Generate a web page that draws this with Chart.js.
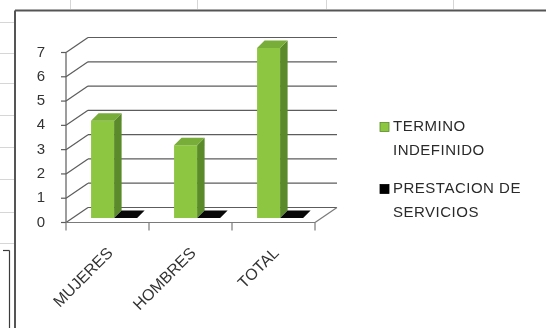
<!DOCTYPE html>
<html>
<head>
<meta charset="utf-8">
<script src="https://cdn.jsdelivr.net/npm/chart.js@4/dist/chart.umd.min.js"></script>
<style>
  html, body { margin: 0; padding: 0; background: #fff; }
  #wrap { width: 546px; height: 328px; position: relative; }
</style>
</head>
<body>
<div id="wrap"><canvas id="c"></canvas></div>
<script>
// Data
const categories = ['MUJERES', 'HOMBRES', 'TOTAL'];
const terminoIndefinido = [4, 3, 7];
const prestacionServicios = [0, 0, 0];
const seriesNames = ['TERMINO INDEFINIDO', 'PRESTACION DE SERVICIOS'];
const yTickValues = [0, 1, 2, 3, 4, 5, 6, 7];

// Pseudo-3D geometry: the bars stand on a middle plane; the axis sits in
// front of it and the wall behind it.
const FRONT = { dx: -6.6, dy: 4.5 };
const BACK = { dx: 15.4, dy: -10.5 };
const BAR_DEPTH = 7.5;
const FONT = '"Liberation Sans", Arial, sans-serif';

function line(ctx, x1, y1, x2, y2) {
  ctx.beginPath(); ctx.moveTo(x1, y1); ctx.lineTo(x2, y2); ctx.stroke();
}
function poly(ctx, pts, fill) {
  ctx.beginPath();
  pts.forEach((p, i) => i ? ctx.lineTo(p[0], p[1]) : ctx.moveTo(p[0], p[1]));
  ctx.closePath();
  ctx.fillStyle = fill; ctx.fill();
}

// Spreadsheet cells around the embedded chart and the chart frame
const sheetPlugin = {
  id: 'sheet',
  beforeDraw(chart) {
    const ctx = chart.ctx;
    ctx.save();
    ctx.fillStyle = '#fff';
    ctx.fillRect(0, 0, chart.width, chart.height);
    ctx.strokeStyle = '#d6d6d6'; ctx.lineWidth = 1;
    [22, 53, 83, 115, 147, 179, 212, 243].forEach(yy => line(ctx, 0, yy + 0.5, 14, yy + 0.5));
    [70, 197, 326, 453].forEach(xx => line(ctx, xx + 0.5, 0, xx + 0.5, 9));
    ctx.strokeStyle = '#3c3c3c'; ctx.lineWidth = 1.2;
    line(ctx, 3, 250.5, 9.5, 250.5);
    line(ctx, 9.5, 250.5, 9.5, chart.height);
    ctx.strokeStyle = '#555'; ctx.lineWidth = 2;
    line(ctx, 15, 10.5, chart.width, 10.5);
    line(ctx, 15, 10.5, 15, chart.height);
    ctx.restore();
  }
};

// Back wall gridlines, side diagonals, floor and front axis
const wallsPlugin = {
  id: 'walls',
  beforeDatasetsDraw(chart) {
    const { ctx, chartArea: a, scales: { x, y } } = chart;
    ctx.save();
    ctx.strokeStyle = '#5c5c5c'; ctx.lineWidth = 1.2;
    const fl = a.left + FRONT.dx, bl = a.left + BACK.dx;
    const fr = a.right + FRONT.dx, br = a.right + BACK.dx;
    yTickValues.forEach(v => {
      const py = y.getPixelForValue(v);
      line(ctx, bl, py + BACK.dy, br, py + BACK.dy);
      line(ctx, fl, py + FRONT.dy, bl, py + BACK.dy);
      line(ctx, fl - 5, py + FRONT.dy, fl, py + FRONT.dy);
    });
    const y0 = y.getPixelForValue(0), yTop = y.getPixelForValue(yTickValues[yTickValues.length - 1]);
    line(ctx, fl, y0 + FRONT.dy, fl, yTop + FRONT.dy);
    ctx.strokeStyle = '#7a7a7a';
    line(ctx, fl, y0 + FRONT.dy, fr, y0 + FRONT.dy);
    line(ctx, fr, y0 + FRONT.dy, br, y0 + BACK.dy);
    const cw = (a.right - a.left) / categories.length;
    for (let i = 0; i <= categories.length; i++) {
      const xx = (i < categories.length ? x.getPixelForTick(i) - cw / 2 : a.right) + FRONT.dx;
      line(ctx, xx, y0 + FRONT.dy, xx, y0 + FRONT.dy + 8);
    }
    ctx.restore();
  },
  // Side and top faces of every bar
  afterDatasetsDraw(chart) {
    const ctx = chart.ctx;
    ctx.save();
    chart.data.datasets.forEach((ds, di) => {
      chart.getDatasetMeta(di).data.forEach(el => {
        const { x, y, base, width } = el.getProps(['x', 'y', 'base', 'width'], true);
        const l = x - width / 2, r = x + width / 2, d = BAR_DEPTH;
        if (base - y > 0.5) poly(ctx, [[r, y], [r + d, y - d], [r + d, base - d], [r, base]], ds.sideColor);
        poly(ctx, [[l, y], [l + d, y - d], [r + d, y - d], [r, y]], ds.topColor);
      });
    });
    ctx.restore();
  }
};

// Legend with wrapped labels at the right of the plot
const legendPlugin = {
  id: 'sideLegend',
  afterDraw(chart) {
    const ctx = chart.ctx;
    ctx.save();
    ctx.font = '15px ' + FONT;
    if ('letterSpacing' in ctx) ctx.letterSpacing = '0.5px';
    ctx.textBaseline = 'middle';
    ctx.textAlign = 'left';
    const maxW = 140, lh = 23.5, gap = 15;
    let yy = 127;
    chart.data.datasets.forEach(ds => {
      const words = ds.label.split(' ');
      const lines = [];
      let cur = '';
      words.forEach(w => {
        const t = cur ? cur + ' ' + w : w;
        if (ctx.measureText(t).width > maxW && cur) { lines.push(cur); cur = w; } else cur = t;
      });
      lines.push(cur);
      ctx.fillStyle = ds.backgroundColor;
      ctx.fillRect(380, yy - 4.5, 9, 9);
      ctx.strokeStyle = ds.sideColor; ctx.lineWidth = 0.8;
      ctx.strokeRect(380, yy - 4.5, 9, 9);
      ctx.fillStyle = '#2a2a2a';
      lines.forEach((t, i) => ctx.fillText(t, 393, yy + i * lh));
      yy += lines.length * lh + gap;
    });
    ctx.restore();
  }
};

new Chart(document.getElementById('c'), {
  type: 'bar',
  data: {
    labels: categories,
    datasets: [
      {
        label: seriesNames[0],
        data: terminoIndefinido,
        backgroundColor: '#8dc641',
        sideColor: '#5a8a2a',
        topColor: '#77ad38',
        borderWidth: 0
      },
      {
        label: seriesNames[1],
        data: prestacionServicios,
        backgroundColor: '#000000',
        sideColor: '#000000',
        topColor: '#080808',
        borderWidth: 0
      }
    ]
  },
  options: {
    responsive: true,
    maintainAspectRatio: false,
    animation: false,
    layout: { padding: { left: 12.6, right: 224.4, top: 48, bottom: 10 } },
    plugins: { legend: { display: false }, tooltip: { enabled: false } },
    datasets: { bar: { categoryPercentage: 0.555, barPercentage: 1 } },
    scales: {
      x: {
        grid: { display: false, drawTicks: false },
        border: { display: false },
        ticks: {
          autoSkip: false, minRotation: 45, maxRotation: 45,
          padding: 26, labelOffset: -3.5,
          color: '#333', font: { family: FONT, size: 16 }
        },
        afterFit(scale) { scale.height = 100; }
      },
      y: {
        min: 0, max: 7,
        grid: { display: false, drawTicks: false },
        border: { display: false },
        ticks: {
          stepSize: 1, padding: 27.6, labelOffset: 4.5,
          color: '#333', font: { family: FONT, size: 15 }
        },
        afterFit(scale) { scale.width = 60; }
      }
    }
  },
  plugins: [sheetPlugin, wallsPlugin, legendPlugin]
});
</script>
</body>
</html>
